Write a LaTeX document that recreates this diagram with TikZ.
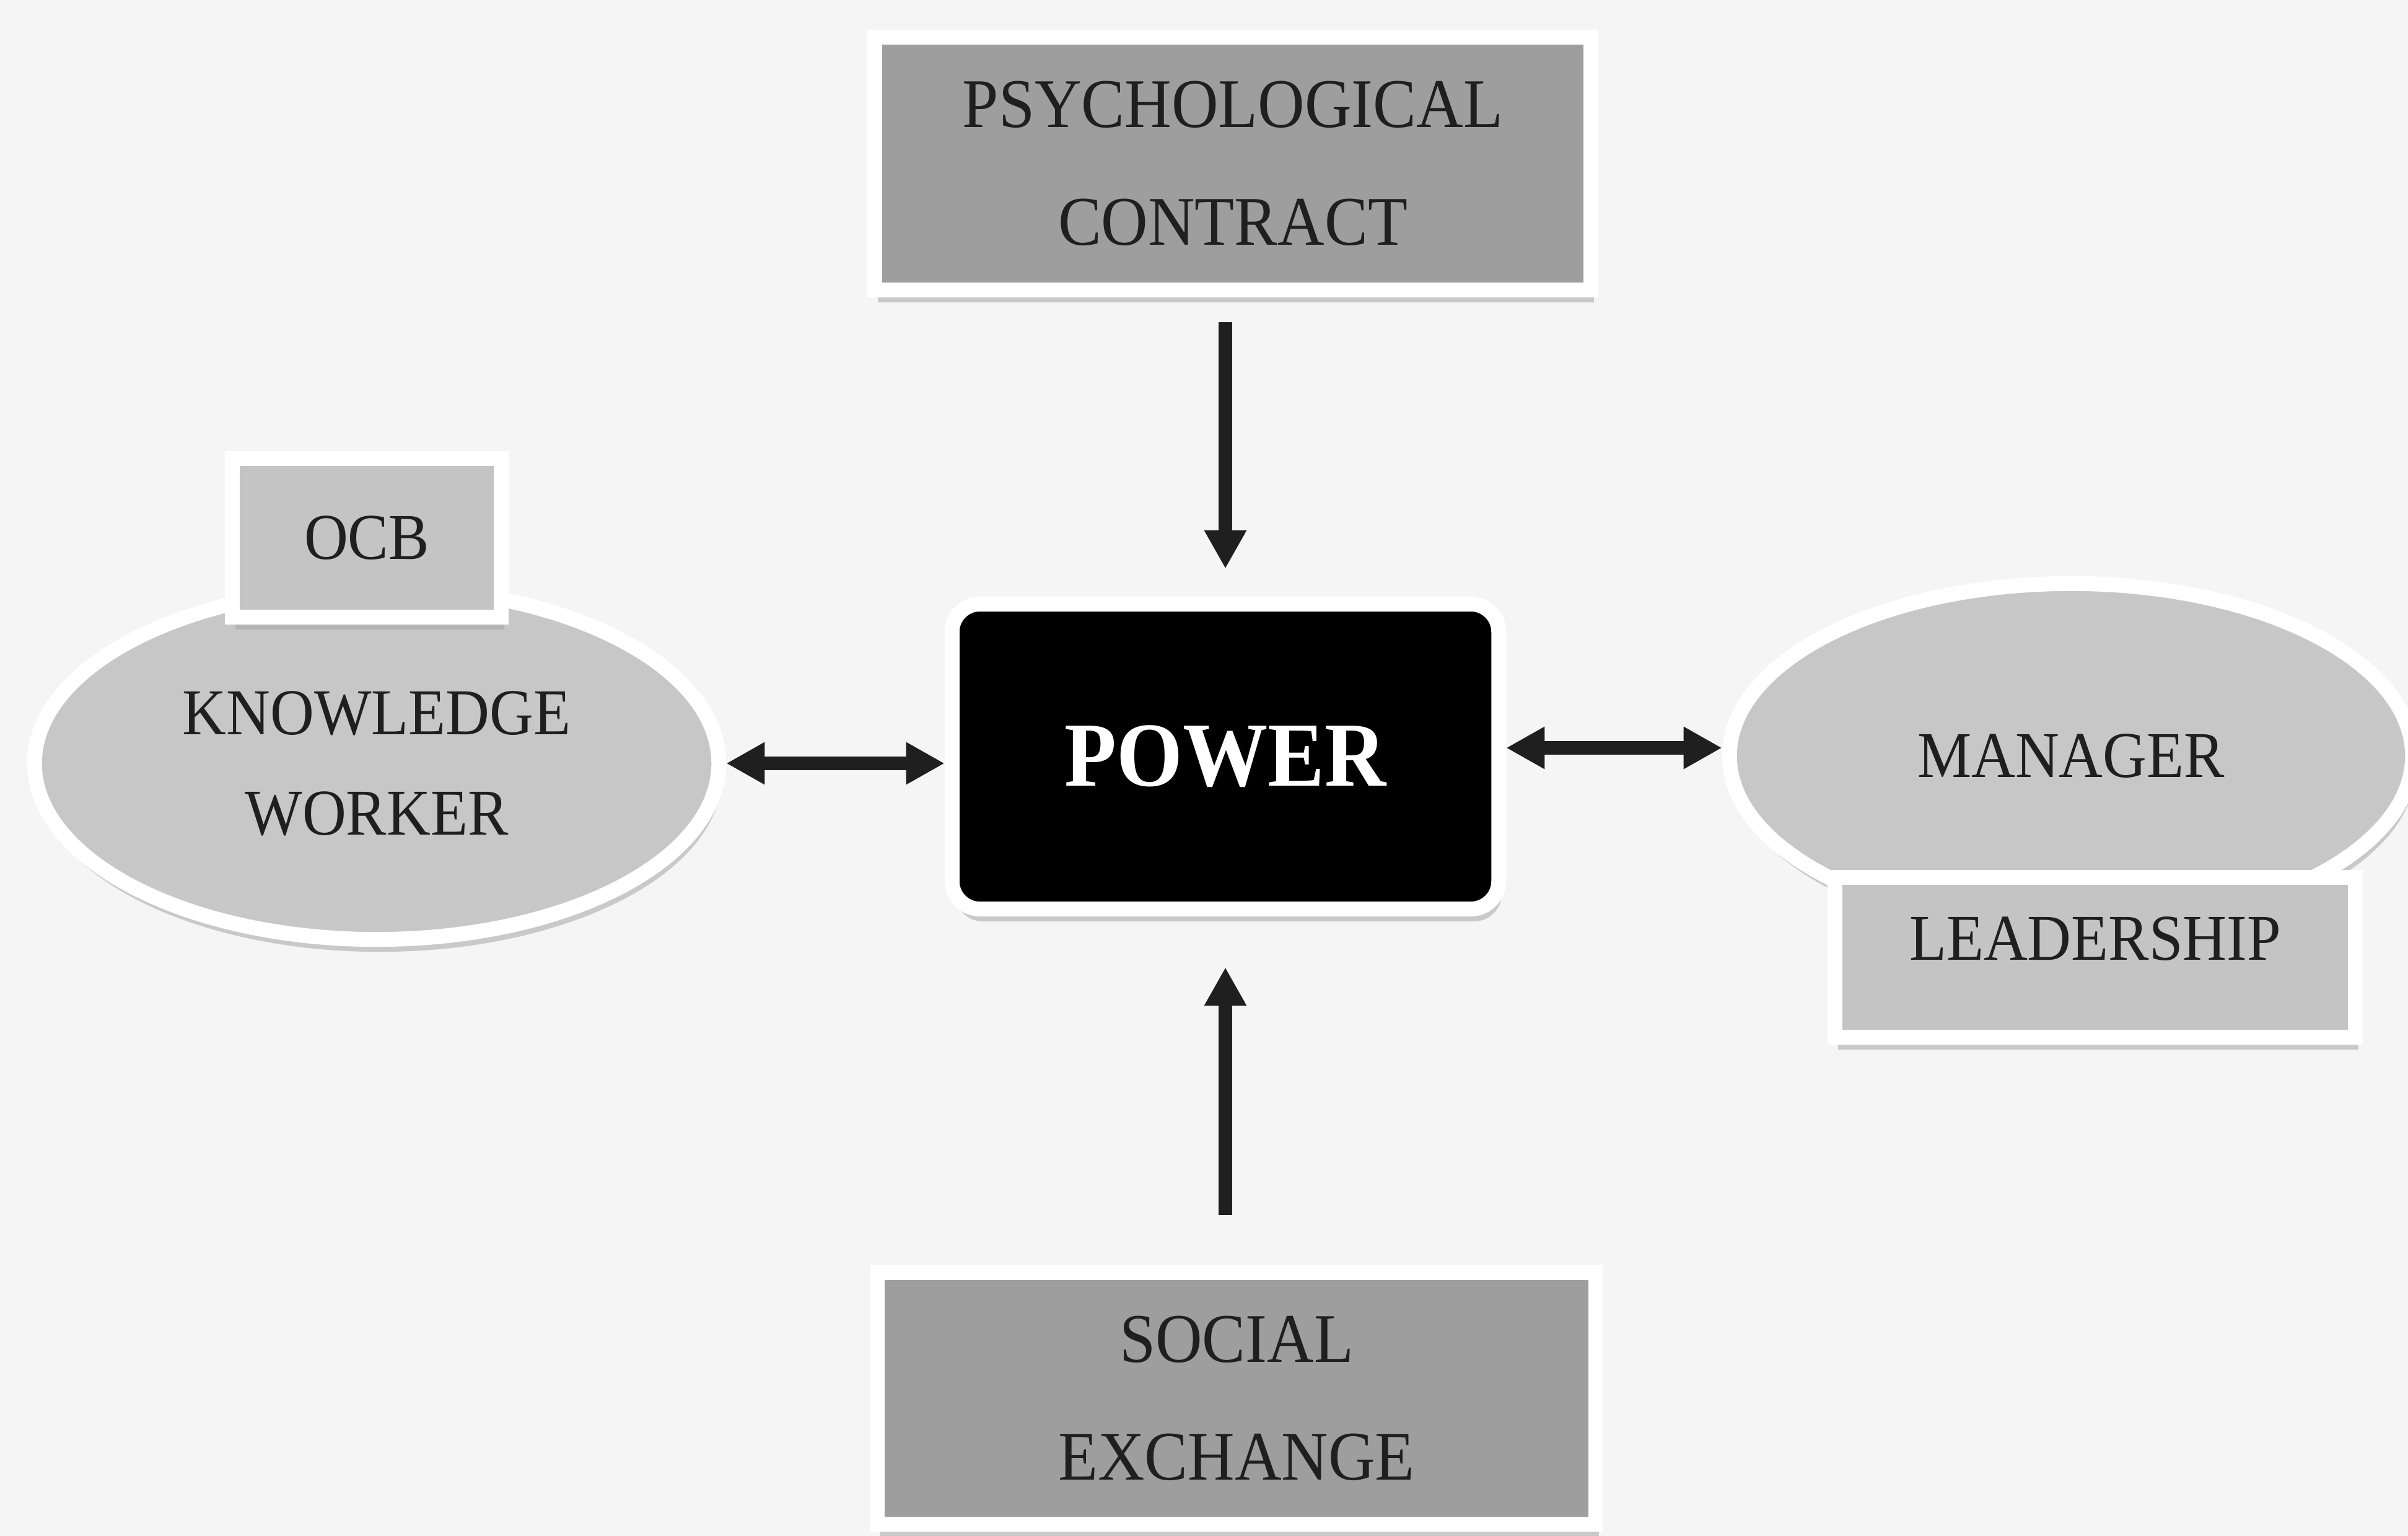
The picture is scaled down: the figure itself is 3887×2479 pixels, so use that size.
\documentclass[tikz,border=0pt]{standalone}
\usepackage{fontspec}
\setmainfont[FakeStretch=0.93]{Liberation Serif}
\usetikzlibrary{arrows.meta,shapes.geometric,shadows}

\begin{document}
\begin{tikzpicture}[x=0.01cm, y=-0.01cm,
    >={Triangle[length=0.62cm,width=0.64cm]},
    frame/.style={draw=white, line width=0.24cm, text=black!88, align=center,
      drop shadow={shadow xshift=0.05cm, shadow yshift=-0.2cm, fill=black!35, opacity=0.55}},
    darkbox/.style={frame, rectangle, fill=black!38, font=\fontsize{32}{54}\selectfont},
    lightbox/.style={frame, rectangle, fill=black!23, font=\fontsize{30}{46}\selectfont},
    blob/.style={frame, ellipse, fill=black!22, font=\fontsize{30}{46}\selectfont},
    conn/.style={line width=0.22cm, draw=black!88}]
  \fill[black!4] (0,0) rectangle (3887,2479);
  \useasboundingbox (0,0) rectangle (3887,2479);

  \node[darkbox, minimum width=11.56cm, minimum height=4.07cm] (psych) at (1990,264) {PSYCHOLOGICAL\\CONTRACT};
  \node[darkbox, minimum width=11.60cm, minimum height=4.06cm] (social) at (1996,2257) {SOCIAL\\EXCHANGE};
  \node[frame, rectangle, rounded corners=0.45cm, fill=black, text=white,
    font=\fontsize{42}{50}\selectfont\bfseries,
    minimum width=8.82cm, minimum height=4.92cm] (power) at (1978,1221) {POWER};

  \node[blob, minimum width=11.04cm, minimum height=5.68cm] (kw) at (608,1232) {KNOWLEDGE\\WORKER};
  \node[lightbox, minimum width=4.34cm, minimum height=2.56cm] (ocb) at (592,868) {OCB};

  \node[blob, minimum width=11.02cm, minimum height=5.56cm] (mgr) at (3343,1220) {MANAGER};
  \node[lightbox, text depth=0.6cm, minimum width=8.39cm, minimum height=2.58cm] (lead) at (3382,1545) {LEADERSHIP};

  \draw[conn, ->, shorten <=0.4cm, shorten >=0.45cm] (power.north |- psych.south) -- (power.north);
  \draw[conn, ->, shorten <=0.81cm, shorten >=0.82cm] (power.south |- social.north) -- (power.south);
  \draw[conn, <->] (kw.east) -- (kw.east -| power.west);
  \draw[conn, <->] ([yshift=0.14cm]power.east) -- ([yshift=0.14cm]power.east -| mgr.west);
\end{tikzpicture}
\end{document}
